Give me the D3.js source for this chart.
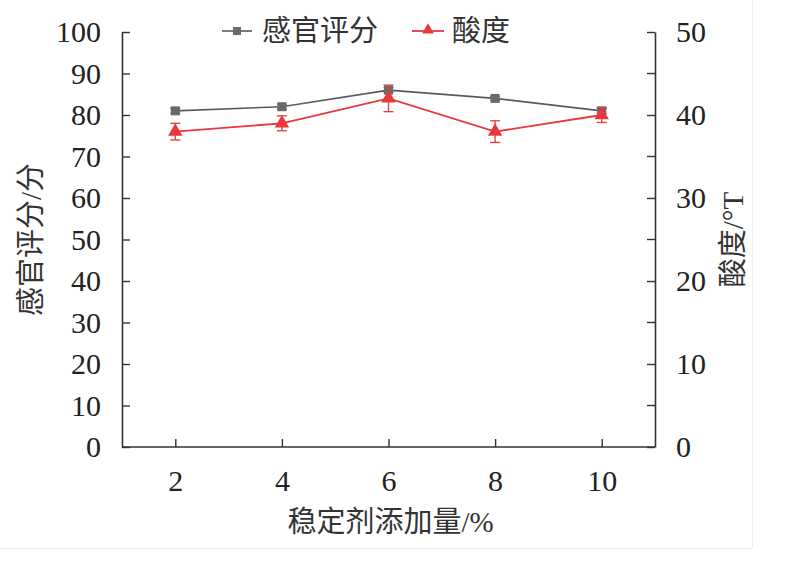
<!DOCTYPE html>
<html><head><meta charset="utf-8">
<script src="https://cdn.jsdelivr.net/npm/d3@7/dist/d3.min.js"></script>
<style>body{margin:0;background:#fff}svg{display:block}</style>
</head><body><svg id="c" width="791" height="566"></svg>
<script>
const dosage = [2, 4, 6, 8, 10];
const sensory = [81, 82, 86, 84, 81];
const sensoryErr = [0.6, 0.6, 0.6, 0.5, 0.6];
const acidity = [38, 39, 42, 38, 40];
const acidityErr = [1.0, 0.9, 1.6, 1.3, 0.9];
const leftTicks = [0,10,20,30,40,50,60,70,80,90,100];
const rightTicks = [0,10,20,30,40,50];
const rightMinor = [5,15,25,35,45];
const xTicks = [2,4,6,8,10];

const svg = d3.select("#c");
const L = 122, R = 655, T = 32, B = 447;
const x = d3.scaleLinear().domain([1, 11]).range([L, R]);
const yL = d3.scaleLinear().domain([0, 100]).range([B, T]);
const yR = d3.scaleLinear().domain([0, 50]).range([B, T]);
const axisColor = "#333";
const numFont = "'Liberation Serif','Times New Roman',serif";
const cjkFont = "'Liberation Serif','Noto Sans CJK SC',serif";

// faint frame edges
svg.append("line").attr("x1",0).attr("x2",752).attr("y1",548.5).attr("y2",548.5).attr("stroke","#e6e6e6");
svg.append("line").attr("x1",752.5).attr("x2",752.5).attr("y1",0).attr("y2",548).attr("stroke","#ececec");

function styleAxis(g){
  g.selectAll(".domain").attr("stroke",axisColor).attr("stroke-width",1.6);
  g.selectAll(".tick line").attr("stroke",axisColor).attr("stroke-width",1.4);
  g.selectAll(".tick text").attr("fill","#222").style("font-family",numFont).style("font-size","30px");
}

// bottom axis
const gx = svg.append("g").attr("transform",`translate(0,${B})`)
  .call(d3.axisBottom(x).tickValues(xTicks).tickSize(-8).tickPadding(18).tickSizeOuter(0));
styleAxis(gx);
gx.select(".domain").attr("d",`M${L},0H${R}`);
gx.selectAll(".tick text").attr("dy","0.85em");

// left axis
const gl = svg.append("g").attr("transform",`translate(${L},0)`)
  .call(d3.axisLeft(yL).tickValues(leftTicks).tickSize(-8).tickPadding(21).tickSizeOuter(0));
styleAxis(gl);

// right axis
const gr = svg.append("g").attr("transform",`translate(${R},0)`)
  .call(d3.axisRight(yR).tickValues(rightTicks).tickSize(-8).tickPadding(21).tickSizeOuter(0));
styleAxis(gr);
gr.selectAll(".minor").data(rightMinor).enter().append("line")
  .attr("x1",0).attr("x2",-8).attr("y1",d=>yR(d)).attr("y2",d=>yR(d))
  .attr("stroke",axisColor).attr("stroke-width",1.4);

// axis titles
svg.append("text").attr("transform",`translate(${(L+R)/2 + 2},${532})`).attr("text-anchor","middle")
  .style("font-family",cjkFont).style("font-size","29px").attr("fill","#333").text("稳定剂添加量/%");
svg.append("text").attr("transform",`translate(41,${(T+B)/2}) rotate(-90)`).attr("text-anchor","middle")
  .style("font-family",cjkFont).style("font-size","29px").attr("fill","#333").text("感官评分/分");
svg.append("text").attr("transform",`translate(743,${(T+B)/2}) rotate(-90)`).attr("text-anchor","middle")
  .style("font-family",cjkFont).style("font-size","29px").attr("fill","#333").text("酸度/°T");

const gray = "#5a5a5a", grayM = "#6a6a6a", red = "#e8383c";

// sensory series
svg.append("path").datum(dosage.map((d,i)=>[x(d), yL(sensory[i])]))
  .attr("d", d3.line()).attr("fill","none").attr("stroke",gray).attr("stroke-width",1.6);
const gs = svg.append("g");
dosage.forEach((d,i)=>{
  const cx = x(d), y1 = yL(sensory[i]+sensoryErr[i]), y2 = yL(sensory[i]-sensoryErr[i]);
  gs.append("line").attr("x1",cx).attr("x2",cx).attr("y1",y1).attr("y2",y2).attr("stroke",gray).attr("stroke-width",1.2);
  gs.append("line").attr("x1",cx-5).attr("x2",cx+5).attr("y1",y1).attr("y2",y1).attr("stroke",gray).attr("stroke-width",1.2);
  gs.append("line").attr("x1",cx-5).attr("x2",cx+5).attr("y1",y2).attr("y2",y2).attr("stroke",gray).attr("stroke-width",1.2);
  gs.append("rect").attr("x",cx-4.5).attr("y",yL(sensory[i])-4.5).attr("width",9).attr("height",9).attr("fill",grayM);
});

// acidity series
svg.append("path").datum(dosage.map((d,i)=>[x(d), yR(acidity[i])]))
  .attr("d", d3.line()).attr("fill","none").attr("stroke",red).attr("stroke-width",1.8);
const ga = svg.append("g");
const tri = d3.symbol().type(d3.symbolTriangle).size(90);
dosage.forEach((d,i)=>{
  const cx = x(d), y1 = yR(acidity[i]+acidityErr[i]), y2 = yR(acidity[i]-acidityErr[i]);
  ga.append("line").attr("x1",cx).attr("x2",cx).attr("y1",y1).attr("y2",y2).attr("stroke",red).attr("stroke-width",1.3);
  ga.append("line").attr("x1",cx-5).attr("x2",cx+5).attr("y1",y1).attr("y2",y1).attr("stroke",red).attr("stroke-width",1.3);
  ga.append("line").attr("x1",cx-5).attr("x2",cx+5).attr("y1",y2).attr("y2",y2).attr("stroke",red).attr("stroke-width",1.3);
  ga.append("path").attr("d",tri).attr("transform",`translate(${cx},${yR(acidity[i])})`).attr("fill",red);
});

// legend
const lg = svg.append("g");
lg.append("line").attr("x1",222).attr("x2",252).attr("y1",31).attr("y2",31).attr("stroke",gray).attr("stroke-width",1.6);
lg.append("rect").attr("x",233).attr("y",27).attr("width",8).attr("height",8).attr("fill",grayM);
lg.append("text").attr("x",262).attr("y",41).style("font-family",cjkFont).style("font-size","29px").attr("fill","#333").text("感官评分");
lg.append("line").attr("x1",412).attr("x2",444).attr("y1",31).attr("y2",31).attr("stroke",red).attr("stroke-width",1.8);
lg.append("path").attr("d",d3.symbol().type(d3.symbolTriangle).size(60)).attr("transform","translate(428,30)").attr("fill",red);
lg.append("text").attr("x",452).attr("y",41).style("font-family",cjkFont).style("font-size","29px").attr("fill","#333").text("酸度");
</script></body></html>
